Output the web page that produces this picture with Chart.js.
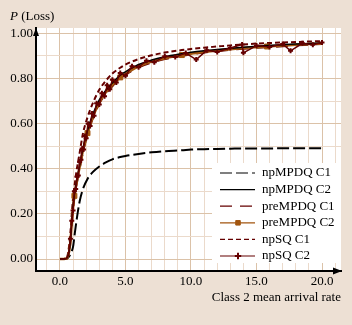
<!DOCTYPE html>
<html>
<head>
<meta charset="utf-8">
<script src="https://cdn.jsdelivr.net/npm/chart.js@4.4.1/dist/chart.umd.min.js"></script>
<style>
  html, body { margin: 0; padding: 0; background: #ede0d4; }
</style>
</head>
<body>
<canvas id="myChart" width="352" height="325"></canvas>
<script>
// x positions shared by the smooth curves
const xGrid = [0, 0.2, 0.4, 0.55, 0.7, 0.8, 0.9, 1.0, 1.1, 1.25, 1.5, 1.75, 2.1, 2.5, 3.0, 3.5, 4.0, 4.6, 5.0, 6.0,
  7.0, 8.0, 9.3, 10, 11, 12, 13, 14, 15, 15.8, 17, 18, 19, 20];

const npMpdqC1 = [0, 0, 0, 0.003, 0.012, 0.022, 0.035, 0.055, 0.1, 0.165, 0.255, 0.31, 0.355, 0.385, 0.41, 0.428, 0.442, 0.452, 0.457, 0.466,
  0.473, 0.478, 0.482, 0.485, 0.487, 0.488, 0.489, 0.49, 0.49, 0.49, 0.491, 0.491, 0.491, 0.491];
const npMpdqC2 = [0, 0, 0.001, 0.006, 0.035, 0.085, 0.165, 0.235, 0.285, 0.34, 0.415, 0.49, 0.57, 0.64, 0.705, 0.748, 0.78, 0.815, 0.83, 0.862,
  0.882, 0.897, 0.91, 0.916, 0.923, 0.929, 0.934, 0.939, 0.943, 0.946, 0.95, 0.953, 0.955, 0.957];
const preMpdqC1 = [0, 0, 0.001, 0.004, 0.03, 0.075, 0.15, 0.22, 0.272, 0.325, 0.4, 0.472, 0.552, 0.622, 0.688, 0.733, 0.766, 0.8, 0.816, 0.85,
  0.871, 0.886, 0.9, 0.907, 0.915, 0.921, 0.927, 0.932, 0.936, 0.939, 0.943, 0.947, 0.95, 0.953];
const preMpdqC2 = [0, 0, 0.001, 0.005, 0.033, 0.08, 0.158, 0.228, 0.28, 0.332, 0.407, 0.48, 0.558, 0.628, 0.694, 0.739, 0.772, 0.805, 0.821, 0.854,
  0.875, 0.89, 0.904, 0.91, 0.918, 0.924, 0.93, 0.935, 0.939, 0.942, 0.946, 0.95, 0.953, 0.955];
const npSqC1 = [0, 0, 0.002, 0.01, 0.06, 0.12, 0.2, 0.27, 0.32, 0.385, 0.47, 0.555, 0.628, 0.69, 0.75, 0.79, 0.822, 0.848, 0.862, 0.886,
  0.903, 0.915, 0.926, 0.931, 0.937, 0.942, 0.947, 0.951, 0.955, 0.957, 0.96, 0.962, 0.964, 0.966];

// where the preMPDQ C2 curve carries a square marker
const preC2MarkerX = [1.1, 2.1, 4.6, 9.3, 15.8];

// npSQ C2 is a simulated series (noisy)
const npSqC2X = [0, 0.3, 0.5, 0.65, 0.8, 0.9, 1.0, 1.1, 1.2, 1.3,
  1.4, 1.5, 1.6, 1.7, 1.8, 1.9, 2.0, 2.15, 2.3, 2.45,
  2.6, 2.8, 3.0, 3.2, 3.4, 3.6, 3.8, 4.0, 4.3, 4.6,
  5.0, 5.5, 6.0, 6.6, 7.2, 8.0, 8.8, 9.6, 10.4, 11.2,
  12.0, 13.0, 13.9, 14.0, 15.0, 16.0, 17.0, 17.6, 18.5, 19.3, 20.0];
const npSqC2 = [0, 0, 0.003, 0.02, 0.09, 0.17, 0.215, 0.3, 0.31, 0.365,
  0.37, 0.43, 0.44, 0.49, 0.485, 0.545, 0.535, 0.6, 0.59, 0.645,
  0.635, 0.69, 0.685, 0.735, 0.722, 0.77, 0.752, 0.795, 0.783, 0.825,
  0.812, 0.855, 0.85, 0.879, 0.872, 0.899, 0.895, 0.913, 0.884, 0.925,
  0.918, 0.935, 0.951, 0.914, 0.946, 0.94, 0.953, 0.923, 0.956, 0.95, 0.96];

// axis ticks / grid
const xTickValues = [-1, 0, 1, 2, 3, 4, 5, 6, 7, 8, 9, 10, 11, 12, 13, 14, 15, 16, 17, 18, 19, 20, 21];
const xLabelValues = [0, 5, 10, 15, 20];
const yTickValues = [0, 0.1, 0.2, 0.3, 0.4, 0.5, 0.6, 0.7, 0.8, 0.9, 1.0];
const yLabelValues = [0, 0.2, 0.4, 0.6, 0.8, 1.0];

const pageColor = '#ede0d4';
const gridMinor = '#ebdacb';
const gridMajor = '#dbc2a8';
const darkRed = '#650000';
const brown = '#a2550f';
const serif = '"Liberation Serif", "Times New Roman", serif';

function pts(xs, ys) {
  return xs.map((x, i) => ({x: x, y: ys[i]}));
}

const decor = {
  id: 'decor',
  beforeDraw(chart) {
    const ctx = chart.ctx, a = chart.chartArea;
    ctx.save();
    ctx.fillStyle = pageColor;
    ctx.fillRect(0, 0, chart.width, chart.height);
    ctx.fillStyle = '#fff';
    ctx.fillRect(a.left, a.top, a.right - a.left, a.bottom - a.top);
    ctx.restore();
  },
  afterDraw(chart) {
    const ctx = chart.ctx, a = chart.chartArea;
    ctx.save();
    // axis arrows
    ctx.fillStyle = '#000';
    ctx.beginPath();
    ctx.moveTo(a.left, a.top);
    ctx.lineTo(a.left - 3, a.top + 8);
    ctx.lineTo(a.left + 3, a.top + 8);
    ctx.closePath();
    ctx.fill();
    ctx.beginPath();
    ctx.moveTo(a.right + 1, a.bottom);
    ctx.lineTo(a.right - 8, a.bottom - 3.5);
    ctx.lineTo(a.right - 8, a.bottom + 3.5);
    ctx.closePath();
    ctx.fill();

    // y title with italic P
    ctx.textBaseline = 'middle';
    ctx.textAlign = 'left';
    ctx.font = 'italic 13px ' + serif;
    ctx.fillText('P', 10, 17);
    const w = ctx.measureText('P').width;
    ctx.font = '13px ' + serif;
    ctx.fillText(' (Loss)', 10 + w, 17);

    // legend box
    ctx.fillStyle = '#fff';
    ctx.fillRect(212, 163, a.right - 212, 100);
    chart.data.datasets.forEach((ds, i) => {
      const y = 173 + i * 16.6;
      ctx.strokeStyle = ds.borderColor;
      ctx.lineWidth = 1.2;
      ctx.setLineDash(ds.borderDash || []);
      ctx.beginPath();
      ctx.moveTo(220, y);
      ctx.lineTo(255, y);
      ctx.stroke();
      ctx.setLineDash([]);
      if (ds.legendMarker) {
        ctx.fillStyle = ds.borderColor;
        ctx.lineWidth = ds.pointBorderWidth;
        Chart.helpers.drawPoint(ctx, {pointStyle: ds.pointStyle, radius: 3.2, borderWidth: ds.pointBorderWidth, rotation: 0}, 238, y);
      }
      ctx.fillStyle = '#000';
      ctx.font = '13px ' + serif;
      ctx.fillText(ds.label, 262, y);
    });
    ctx.restore();
  }
};

const ctx = document.getElementById('myChart').getContext('2d');
new Chart(ctx, {
  type: 'line',
  data: {
    datasets: [
      {
        label: 'npMPDQ C1', data: pts(xGrid, npMpdqC1), borderColor: '#000', borderWidth: 2,
        borderDash: [12, 4], pointRadius: 0, cubicInterpolationMode: 'monotone', order: 4
      },
      {
        label: 'npMPDQ C2', data: pts(xGrid, npMpdqC2), borderColor: '#000', borderWidth: 1.5,
        pointRadius: 0, cubicInterpolationMode: 'monotone', order: 1
      },
      {
        label: 'preMPDQ C1', data: pts(xGrid, preMpdqC1), borderColor: darkRed, borderWidth: 2,
        borderDash: [12, 8], pointRadius: 0, cubicInterpolationMode: 'monotone', order: 3
      },
      {
        label: 'preMPDQ C2', data: pts(xGrid, preMpdqC2), borderColor: brown, backgroundColor: brown, borderWidth: 2.5,
        pointStyle: 'rect', pointBorderWidth: 1, pointBackgroundColor: brown, pointBorderColor: brown,
        pointRadius: (c) => preC2MarkerX.includes(xGrid[c.dataIndex]) ? 3.5 : 0,
        cubicInterpolationMode: 'monotone', order: 2, legendMarker: true
      },
      {
        label: 'npSQ C1', data: pts(xGrid, npSqC1), borderColor: darkRed, borderWidth: 2,
        borderDash: [5, 3], pointRadius: 0, cubicInterpolationMode: 'monotone', order: 5
      },
      {
        label: 'npSQ C2', data: pts(npSqC2X, npSqC2), borderColor: darkRed, borderWidth: 1.5,
        pointStyle: 'cross', pointBorderWidth: 2, pointBorderColor: darkRed,
        pointRadius: (c) => npSqC2[c.dataIndex] > 0.05 ? 2.5 : 0,
        tension: 0, order: 0, legendMarker: true
      }
    ]
  },
  options: {
    responsive: false,
    animation: false,
    layout: { padding: { left: 0, right: 11, top: 28, bottom: 0 } },
    plugins: { legend: { display: false }, tooltip: { enabled: false } },
    scales: {
      x: {
        type: 'linear', min: -1.83, max: 21.45,
        afterBuildTicks: (axis) => { axis.ticks = xTickValues.map(v => ({value: v})); },
        afterFit: (axis) => { axis.height = 54; },
        ticks: {
          autoSkip: false, maxRotation: 0, padding: 3, color: '#000',
          font: { family: serif, size: 13 },
          callback: (v) => xLabelValues.includes(v) ? v.toFixed(1) : ''
        },
        grid: {
          drawTicks: false, lineWidth: 1,
          color: (c) => (c.tick && c.tick.value % 5 === 0) ? gridMajor : gridMinor
        },
        border: { display: true, color: '#000', width: 2 },
        title: {
          display: true, text: 'Class 2 mean arrival rate', align: 'end', color: '#000',
          font: { family: serif, size: 13 }, padding: { top: 0, bottom: 20 }
        }
      },
      y: {
        type: 'linear', min: -0.053, max: 1.024,
        afterBuildTicks: (axis) => { axis.ticks = yTickValues.map(v => ({value: v})); },
        afterFit: (axis) => { axis.width = 36; },
        ticks: {
          autoSkip: false, padding: 3, color: '#000',
          font: { family: serif, size: 13 },
          callback: (v) => yLabelValues.some(l => Math.abs(l - v) < 1e-6) ? v.toFixed(2) : ''
        },
        grid: {
          drawTicks: false, lineWidth: 1,
          color: (c) => (c.tick && yLabelValues.some(l => Math.abs(l - c.tick.value) < 1e-6)) ? gridMajor : gridMinor
        },
        border: { display: true, color: '#000', width: 2 }
      }
    }
  },
  plugins: [decor]
});
</script>
</body>
</html>
